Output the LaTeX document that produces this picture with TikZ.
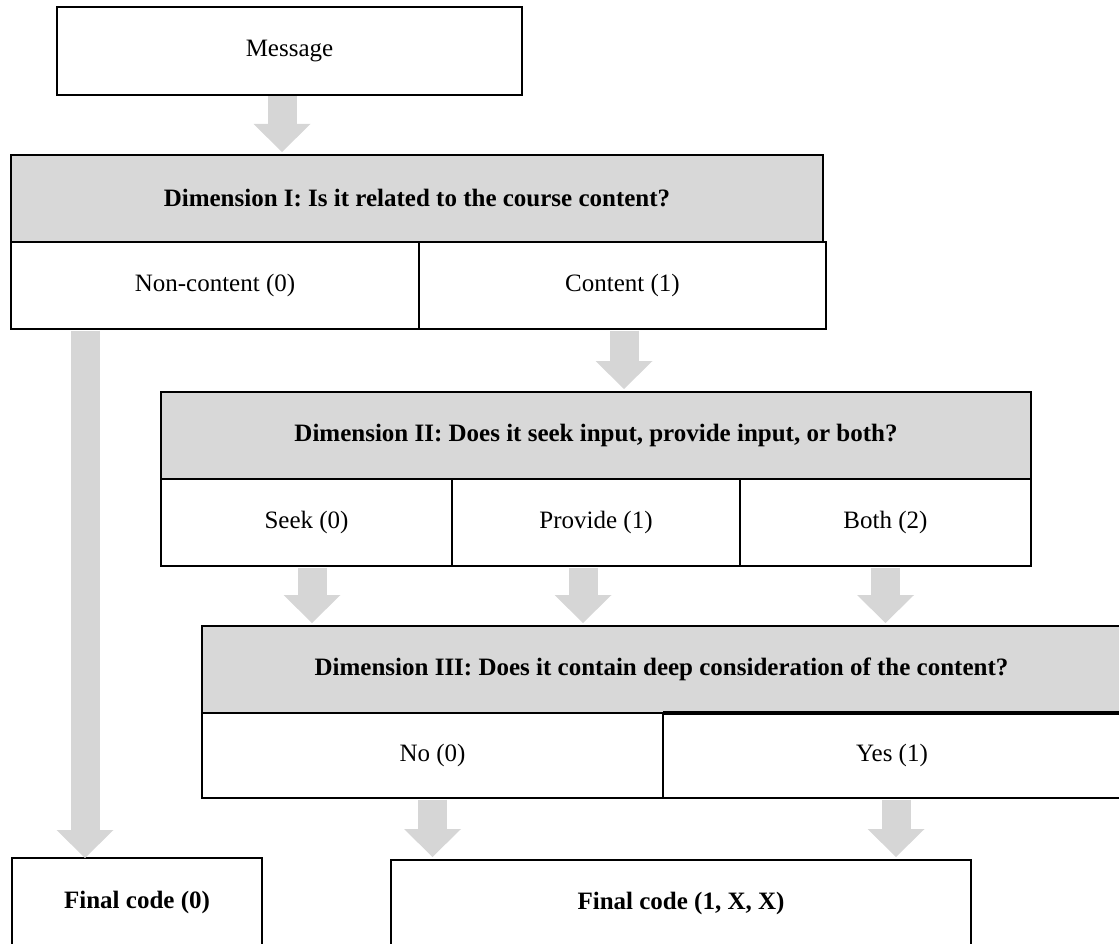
\documentclass[tikz,border=0pt]{standalone}
\usepackage{fontspec}
\setmainfont{Liberation Serif}
\usetikzlibrary{arrows.meta}
\usetikzlibrary{positioning}
\definecolor{boxgray}{RGB}{216,216,216}
\definecolor{arrowgray}{RGB}{214,214,214}

\begin{document}
\begin{tikzpicture}[x=1pt,y=-1pt,
        cell/.style={draw=black,line width=2pt,anchor=north west,inner sep=0pt,outer sep=0pt,
            font=\fontsize{25}{30}\selectfont},
        head/.style={cell,fill=boxgray,font=\fontsize{25}{30}\selectfont\bfseries},
        flow/.style={draw=arrowgray,line width=29pt,shorten <=1.5pt,shorten >=3pt,
            -{Triangle[width=57pt,length=28pt,line width=0pt]}}]
        \useasboundingbox (0,0) rectangle (1119,944);

        \node[cell,minimum width=465pt,minimum height=88pt] (msg) at (57,7) {Message};

        \node[head,minimum width=812pt,minimum height=87pt] (dimone) at (11,155) {Dimension I: Is it related to the course content?};
        \node[cell,minimum width=408pt,minimum height=87pt] (noncontent) at (11,242) {Non-content (0)};
        \node[cell,minimum width=407pt,minimum height=87pt] (content) at (419,242) {Content (1)};

        \node[head,minimum width=870pt,minimum height=87pt] (dimtwo) at (161,392) {Dimension II: Does it seek input, provide input, or both?};
        \node[cell,minimum width=291pt,minimum height=87pt] (seek) at (161,479) {Seek (0)};
        \node[cell,minimum width=288pt,minimum height=87pt] (provide) at (452,479) {Provide (1)};
        \node[cell,minimum width=291pt,minimum height=87pt] (both) at (740,479) {Both (2)};

        \node[head,minimum width=919pt,minimum height=87pt] (dimthree) at (202,626) {Dimension III: Does it contain deep consideration of the content?};
        \node[cell,minimum width=461pt,minimum height=85pt] (no) at (202,713) {No (0)};
        \node[cell,minimum width=458pt,minimum height=85pt] (yes) at (663,713) {Yes (1)};
        \draw[line width=3.2pt] (yes.north west) -- (yes.north east);

        \node[cell,font=\fontsize{25}{30}\selectfont\bfseries,minimum width=250pt,minimum height=88pt] (finalzero) at (12,858) {Final code (0)};
        \node[cell,font=\fontsize{25}{30}\selectfont\bfseries,minimum width=580pt,minimum height=86pt] (finalone) at (391,860) {Final code (1, X, X)};

        \draw[flow] ([xshift=-7.5pt]msg.south) -- ([xshift=-7.5pt]msg.south |- dimone.north);
        \draw[flow] ([xshift=1.5pt]content.south) -- ([xshift=1.5pt]content.south |- dimtwo.north);
        \draw[flow,shorten >=0pt] ([xshift=74pt]noncontent.south west) -- ([xshift=74pt]noncontent.south west |- finalzero.north);
        \draw[flow] ([xshift=5.5pt]seek.south) -- ([xshift=5.5pt]seek.south |- dimthree.north);
        \draw[flow] ([xshift=-13pt]provide.south) -- ([xshift=-13pt]provide.south |- dimthree.north);
        \draw[flow] (both.south) -- (both.south |- dimthree.north);
        \draw[flow] (no.south) -- (no.south |- finalone.north);
        \draw[flow] ([xshift=4pt]yes.south) -- ([xshift=4pt]yes.south |- finalone.north);
    \end{tikzpicture}
\end{document}
